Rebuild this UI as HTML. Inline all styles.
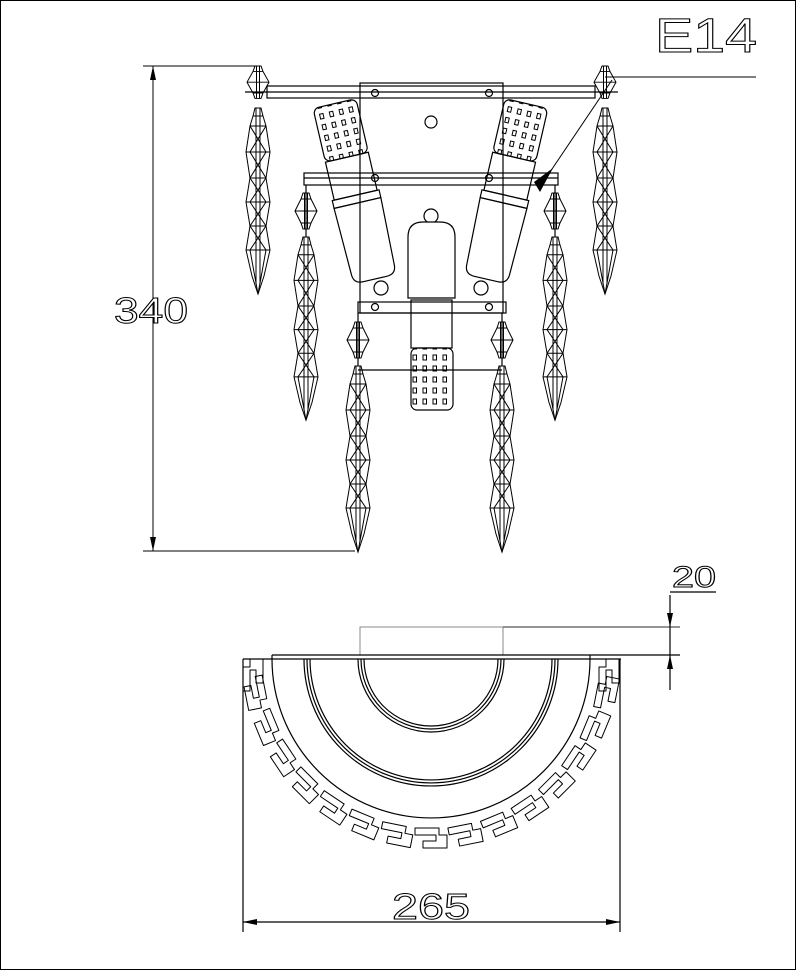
<!DOCTYPE html>
<html><head><meta charset="utf-8"><style>
html,body{margin:0;padding:0;background:#fff;}
svg{display:block;}
text{font-family:"Liberation Sans",sans-serif;}
</style></head><body>
<svg width="796" height="970" viewBox="0 0 796 970" xmlns="http://www.w3.org/2000/svg">
<defs>
<pattern id="dots" width="10" height="11" patternUnits="userSpaceOnUse">
<rect x="3" y="3" width="3.5" height="5" fill="none" stroke="#000" stroke-width="1"/>
</pattern>
<g id="drop" fill="none" stroke="#000" stroke-width="1">
<path d="M-3,0 L3,0 L5,8 L8,18 L12,44 L8,70 L12,94 L8,118 L12,142 L6,168 L0,186 L-6,168 L-12,142 L-8,118 L-12,94 L-8,70 L-12,44 L-8,18 L-5,8 Z"/>
<path d="M-2,0 V176 M2,0 V176 M-5,8 H5 M-8,18 H8 M-12,44 H12 M-8,70 H8 M-12,94 H12 M-8,118 H8 M-12,142 H12"/>
<path d="M-8,18 L8,44 L-8,70 L8,94 L-8,118 L8,142 L0,186 M8,18 L-8,44 L8,70 L-8,94 L8,118 L-8,142 L0,186"/>
</g>
<g id="small" fill="none" stroke="#000" stroke-width="1">
<path d="M-3,0 L3,0 L5,6 L11,18 L5,30 L3,36 L-3,36 L-5,30 L-11,18 L-5,6 Z"/>
<path d="M-1.5,0 V36 M1.5,0 V36 M-5,6 H5 M-11,18 H11 M-5,30 H5"/>
</g>
<g id="lamp" fill="none" stroke="#000" stroke-width="1.2">
<path d="M-24,-78 L-22,-10 Q-22,0 -12,0 L12,0 Q22,0 22,-10 L24,-78 Z"/>
<rect x="-24" y="-86" width="48" height="8"/>
<rect x="-22" y="-125" width="44" height="39"/>
<rect x="-22" y="-180" width="44" height="55" rx="6" fill="url(#dots)"/>
</g>
<g id="key" fill="none" stroke="#000" stroke-width="1">
<path d="M-16,-10 H8 V-3 H-5 V3 H16 V10 H-8 V3 H-16 Z" stroke-linejoin="round"/>
</g>
</defs>
<rect x="0.5" y="0.5" width="795" height="969" fill="none" stroke="#000"/>

<!-- E14 -->
<text x="655" y="52" font-size="48" fill="#fff" stroke="#000" stroke-width="1" textLength="102" lengthAdjust="spacingAndGlyphs">E14</text>
<line x1="605" y1="77" x2="756" y2="77" stroke="#000"/>
<line x1="612" y1="80" x2="548" y2="175" stroke="#000"/>
<polygon points="553,168 540,192 534,182" fill="#000"/>

<!-- 340 dimension -->
<g stroke="#000" stroke-width="1" fill="none">
<line x1="143" y1="66" x2="255" y2="66"/>
<line x1="143" y1="551" x2="355" y2="551"/>
<line x1="153" y1="66" x2="153" y2="551"/>
</g>
<polygon points="153,66 150,80 156,80" fill="#000"/>
<polygon points="153,551 150,537 156,537" fill="#000"/>
<text x="114" y="323" font-size="36" fill="#fff" stroke="#000" stroke-width="1" textLength="74" lengthAdjust="spacingAndGlyphs">340</text>

<g fill="none" stroke="#000" stroke-width="1.2">
<rect x="360" y="83" width="143" height="230"/>
<rect x="267" y="86" width="328" height="12"/>
<line x1="245" y1="92" x2="618" y2="92"/>
<rect x="304" y="173" width="254" height="12"/>
<line x1="304" y1="178" x2="558" y2="178"/>
<rect x="358" y="302" width="148" height="11"/>
<circle cx="375" cy="93" r="3.5"/><circle cx="489" cy="93" r="3.5"/>
<circle cx="431" cy="122" r="6"/>
<circle cx="375" cy="178" r="3.5"/><circle cx="489" cy="178" r="3.5"/>
<circle cx="375" cy="307" r="3.5"/><circle cx="489" cy="307" r="3.5"/>
<circle cx="381" cy="288" r="7"/><circle cx="481" cy="288" r="7"/>
<circle cx="431" cy="216" r="7"/>
<path d="M408,298 V237 Q408,222 423,222 H440 Q455,222 455,237 V298 Z" fill="#fff"/>
<rect x="411" y="300" width="41" height="48"/>
<rect x="411" y="348" width="42" height="62" rx="6" fill="url(#dots)"/>
<line x1="358" y1="370" x2="502" y2="370"/>
<line x1="306" y1="185" x2="306" y2="237"/>
<line x1="555" y1="185" x2="555" y2="237"/>
<line x1="358" y1="313" x2="358" y2="366"/>
<line x1="502" y1="313" x2="502" y2="366"/>
</g>
<use href="#lamp" transform="translate(375,279) rotate(-13)"/>
<use href="#lamp" transform="translate(486,279) rotate(13)"/>

<use href="#small" transform="translate(258,66) scale(1,0.9)"/>
<use href="#small" transform="translate(605,66) scale(1,0.9)"/>
<use href="#drop" transform="translate(258,108)"/>
<use href="#drop" transform="translate(605,108)"/>
<use href="#small" transform="translate(306,193)"/>
<use href="#small" transform="translate(555,193)"/>
<use href="#drop" transform="translate(306,237) scale(1,0.985)"/>
<use href="#drop" transform="translate(555,237) scale(1,0.985)"/>
<use href="#small" transform="translate(358,322)"/>
<use href="#small" transform="translate(502,322)"/>
<use href="#drop" transform="translate(358,366)"/>
<use href="#drop" transform="translate(502,366)"/>

<!-- bottom view -->
<rect x="360" y="627" width="143" height="28" fill="none" stroke="#888" stroke-width="1"/>
<g fill="none" stroke="#000" stroke-width="1.2">
<line x1="503" y1="627" x2="680" y2="627" stroke="#555"/>
<line x1="272" y1="655" x2="680" y2="655"/>
<line x1="243" y1="659" x2="621" y2="659"/>
<line x1="243" y1="659" x2="243" y2="932"/>
<line x1="620" y1="659" x2="620" y2="932"/>
<line x1="670" y1="595" x2="670" y2="690"/>
<line x1="670" y1="592" x2="716" y2="592"/>
<path d="M272,655 V659 A159,159 0 0 0 590,659 V655"/>
<path d="M304,659 A127,127 0 0 0 558,659"/>
<path d="M307,659 A124,124 0 0 0 555,659"/>
<path d="M310,659 A121,121 0 0 0 552,659"/>
<path d="M358,659 A73,73 0 0 0 504,659"/>
<path d="M361,659 A70,70 0 0 0 501,659"/>
<path d="M364,659 A67,67 0 0 0 498,659"/>
<line x1="243" y1="922" x2="620" y2="922"/>
</g>
<polygon points="670,627 667,613 673,613" fill="#000"/>
<polygon points="670,655 667,669 673,669" fill="#000"/>
<polygon points="243,922 257,919 257,925" fill="#000"/>
<polygon points="620,922 606,919 606,925" fill="#000"/>
<text x="672" y="587" font-size="30" fill="#fff" stroke="#000" stroke-width="1" textLength="44" lengthAdjust="spacingAndGlyphs">20</text>
<text x="392" y="919" font-size="36" fill="#fff" stroke="#000" stroke-width="1" textLength="78" lengthAdjust="spacingAndGlyphs">265</text>

<use href="#key" transform="translate(609,675) rotate(90)"/>
<use href="#key" transform="translate(253,675) rotate(90)"/>
<use href="#key" transform="translate(606.6,692.8) rotate(101.25)"/>
<use href="#key" transform="translate(595.4,726.9) rotate(112.5)"/>
<use href="#key" transform="translate(578.9,757.9) rotate(123.75)"/>
<use href="#key" transform="translate(556.9,785.3) rotate(135)"/>
<use href="#key" transform="translate(530.0,807.9) rotate(146.25)"/>
<use href="#key" transform="translate(499.1,824.5) rotate(157.5)"/>
<use href="#key" transform="translate(465.5,834.7) rotate(168.75)"/>
<use href="#key" transform="translate(431,838) rotate(180)"/>
<use href="#key" transform="translate(396.5,834.7) rotate(191.25)"/>
<use href="#key" transform="translate(362.9,824.5) rotate(202.5)"/>
<use href="#key" transform="translate(332.0,807.9) rotate(213.75)"/>
<use href="#key" transform="translate(305.1,785.3) rotate(225)"/>
<use href="#key" transform="translate(283.1,757.9) rotate(236.25)"/>
<use href="#key" transform="translate(266.6,726.9) rotate(247.5)"/>
<use href="#key" transform="translate(255.4,692.8) rotate(258.75)"/>
</svg>
</body></html>
